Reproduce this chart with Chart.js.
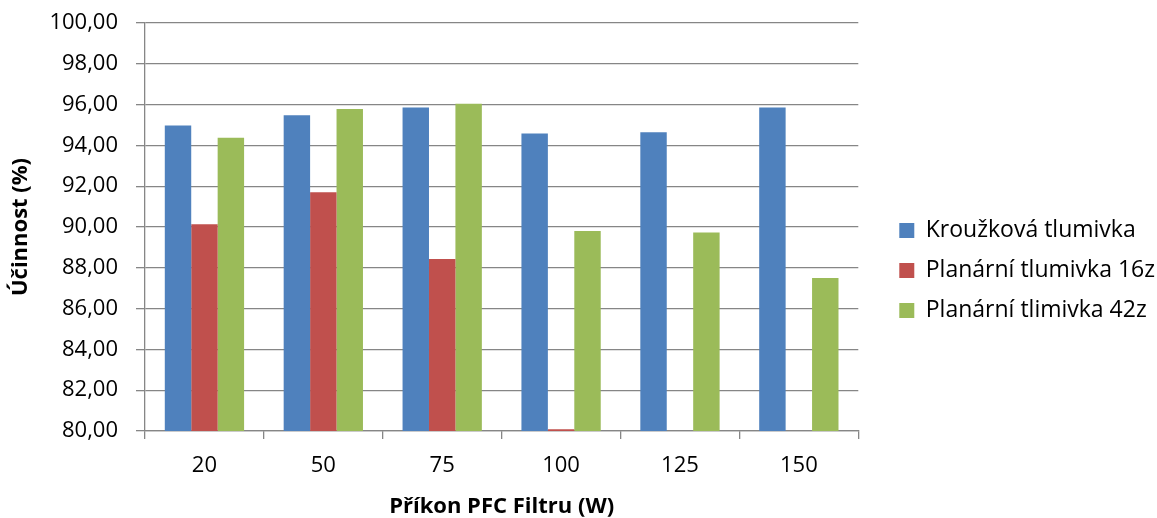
<!DOCTYPE html>
<html>
<head>
<meta charset="utf-8">
<script src="https://cdn.jsdelivr.net/npm/chart.js@4"></script>
<style>
  html, body { margin: 0; padding: 0; background: #fff; }
  #wrap { width: 1157px; height: 518px; }
</style>
</head>
<body>
<div id="wrap"><canvas id="myChart" width="1157" height="518"></canvas></div>
<script>
const categories = ['20', '50', '75', '100', '125', '150'];

const krouzkova = [94.97, 95.48, 95.86, 94.58, 94.64, 95.86];
const planar16z = [90.13, 91.70, 88.43, 80.08, null, null];
const planar42z = [94.37, 95.78, 96.04, 89.80, 89.73, 87.50];

const seriesNames = ['Kroužková tlumivka', 'Planární tlumivka 16z', 'Planární tlimivka 42z'];

const gridColor = '#868686';
const font = 'Open Sans';

// push legend items a bit further from the plot, like Excel does
const legendShift = {
  id: 'legendShift',
  afterLayout(chart) {
    chart.legend.left += 24;
    chart.legend.right += 24;
  }
};

const ctx = document.getElementById('myChart').getContext('2d');
const chart = new Chart(ctx, {
  type: 'bar',
  data: {
    labels: categories,
    datasets: [
      { label: seriesNames[0], data: krouzkova, backgroundColor: '#4F81BD' },
      { label: seriesNames[1], data: planar16z, backgroundColor: '#C0504D' },
      { label: seriesNames[2], data: planar42z, backgroundColor: '#9BBB59' }
    ]
  },
  plugins: [legendShift],
  options: {
    responsive: false,
    animation: false,
    devicePixelRatio: 1,
    layout: { padding: { top: 23, right: 16, bottom: 0, left: 0 } },
    datasets: {
      bar: { barPercentage: 1, categoryPercentage: 0.667 }
    },
    plugins: {
      tooltip: { enabled: false },
      legend: {
        position: 'right',
        labels: {
          color: '#000',
          font: { family: font, size: 23 },
          boxWidth: 15,
          boxHeight: 15,
          padding: 17
        }
      }
    },
    scales: {
      x: {
        grid: {
          offset: true,
          drawOnChartArea: false,
          drawTicks: true,
          tickLength: 8,
          color: gridColor,
          lineWidth: 1.3
        },
        border: { color: gridColor, width: 1.3 },
        ticks: { color: '#000', font: { family: font, size: 22 }, padding: 14 },
        title: {
          display: true,
          text: 'Příkon PFC Filtru (W)',
          color: '#000',
          font: { family: font, size: 22, weight: 'bold', lineHeight: 1 },
          padding: { top: 0, bottom: 0 }
        },
        afterFit: scale => { scale.height = 87; }
      },
      y: {
        min: 80,
        max: 100,
        grid: {
          color: gridColor,
          lineWidth: 1.3,
          drawTicks: true,
          tickLength: 9
        },
        border: { color: gridColor, width: 1.3 },
        ticks: {
          stepSize: 2,
          color: '#000',
          font: { family: font, size: 22 },
          padding: 18,
          callback: v => v.toFixed(2).replace('.', ',')
        },
        title: {
          display: true,
          text: 'Účinnost (%)',
          color: '#000',
          font: { family: font, size: 22, weight: 'bold' },
          padding: { top: 8, bottom: 0 }
        },
        afterFit: scale => {
          scale.width = 145;
          scale.paddingTop = 0;
          scale.paddingBottom = 0;
        }
      }
    }
  }
});
</script>
</body>
</html>
